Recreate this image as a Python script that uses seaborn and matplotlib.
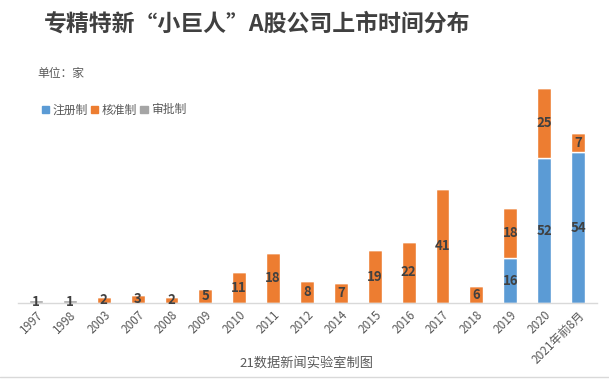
import matplotlib
matplotlib.use("Agg")
import matplotlib.pyplot as plt
from matplotlib.patches import Patch
import seaborn as sns
import pandas as pd
import numpy as np

categories = ["1997", "1998", "2003", "2007", "2008", "2009", "2010", "2011", "2012",
              "2014", "2015", "2016", "2017", "2018", "2019", "2020", "2021年前8月"]
zhuce = [0, 0, 0, 0, 0, 0, 0, 0, 0, 0, 0, 0, 0, 0, 16, 52, 54]       # 注册制
hezhun = [0, 0, 2, 3, 2, 5, 11, 18, 8, 7, 19, 22, 41, 6, 18, 25, 7]  # 核准制
shenpi = [1, 1, 0, 0, 0, 0, 0, 0, 0, 0, 0, 0, 0, 0, 0, 0, 0]         # 审批制
series_names = ["注册制", "核准制", "审批制"]
colors = ["#5B9BD5", "#ED7D31", "#A5A5A5"]

sns.set_theme(style="white")
plt.rcParams['font.family'] = ['Noto Sans CJK SC', 'DejaVu Sans']

df = pd.DataFrame({"cat": categories, "注册制": zhuce, "核准制": hezhun, "审批制": shenpi})

fig = plt.figure(figsize=(6.09, 3.80), dpi=100)
ax = fig.add_axes([18/609, 1 - 303/380, (597-18)/609, 223/380])

bottom = np.zeros(len(categories))
for name, col in zip(series_names, colors):
    vals = np.array(df[name], dtype=float)
    sns.barplot(x=df["cat"], y=vals, bottom=bottom, color=col, width=0.41,
                ax=ax, saturation=1, order=categories)
    for i, v in enumerate(vals):
        if v > 0:
            ax.text(i, bottom[i] + v / 2, f"{int(v)}", ha="center", va="center",
                    fontsize=9.5, fontweight="bold", color="#404040")
    bottom = bottom + vals

ax.set_xlim(-0.53, 16.56)
ax.set_ylim(0, 80)
ax.set_xlabel("")
ax.set_ylabel("")
ax.set_yticks([])
for s in ["top", "right", "left"]:
    ax.spines[s].set_visible(False)
ax.spines["bottom"].set_color("#D9D9D9")
ax.spines["bottom"].set_linewidth(1)
ax.tick_params(axis="x", length=0, pad=4)
ax.set_xticks(range(len(categories)))
ax.set_xticklabels(categories, rotation=45, ha="right", rotation_mode="anchor",
                   fontsize=8.5, color="#595959")

fig.text(257/609, 1 - 24/380, "专精特新“小巨人”A股公司上市时间分布", ha="center", va="center",
         fontsize=16.5, fontweight="bold", color="#404040")
fig.text(37/609, 1 - 73/380, "单位：家", ha="left", va="center", fontsize=8.5, color="#595959")
fig.text(306/609, 1 - 363/380, "21数据新闻实验室制图", ha="center", va="center",
         fontsize=9.5, color="#595959")

handles = [Patch(color=c, label=n) for n, c in zip(series_names, colors)]
fig.legend(handles=handles, loc="center left", bbox_to_anchor=(31/609, 1 - 110/380), ncol=3,
           frameon=False, handlelength=0.6, handleheight=0.6, handletextpad=0.3,
           columnspacing=0.3, fontsize=8.5, labelcolor="#595959")

fig.add_artist(plt.Line2D([0, 1], [1 - 377/380, 1 - 377/380], color="#D9D9D9", lw=1,
                          transform=fig.transFigure))

fig.savefig("out.png", dpi=100, facecolor="white")
